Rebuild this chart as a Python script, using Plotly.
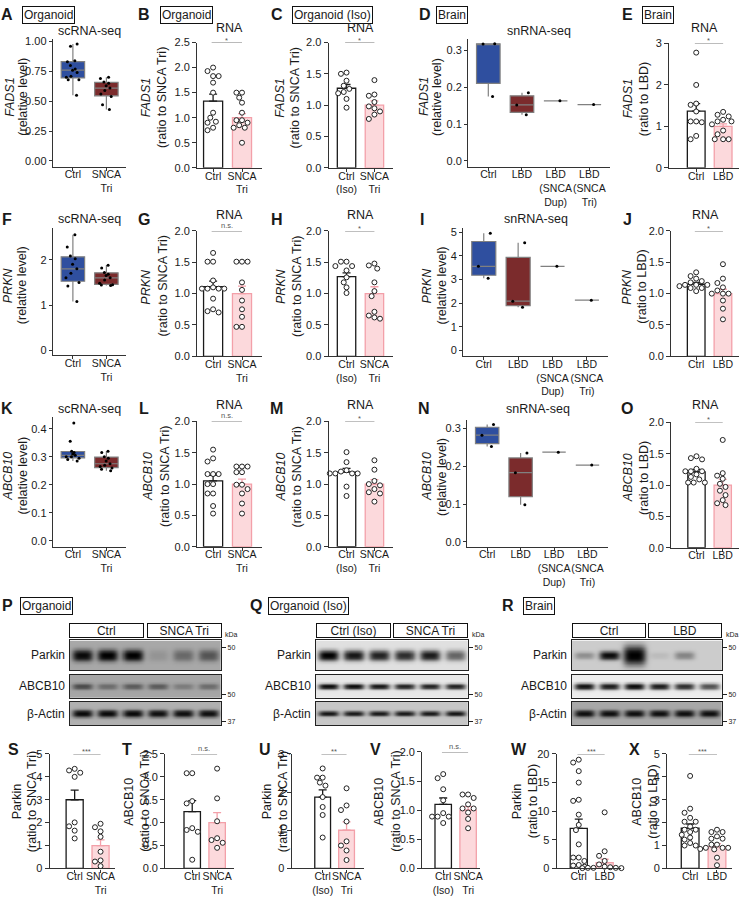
import numpy as np
import plotly.graph_objects as go

W, H = 744, 906
FONT = "Liberation Sans, Arial, Helvetica, sans-serif"
INK = "#1a1a1a"
AXC = "#333333"
BLUE = "#2f4f9f"
DRED = "#7b2b2c"
BOXLINE = "#808080"
PINK_FILL = "#fcd9dc"
PINK_LINE = "#f3a0a9"

# ---------------- data ----------------
# scRNA-seq organoid (box plots)
A_ctrl = [0.98, 0.96, 0.84, 0.83, 0.80, 0.77, 0.76, 0.74, 0.71, 0.70, 0.68, 0.68, 0.55]
A_tri = [0.70, 0.69, 0.66, 0.65, 0.63, 0.61, 0.59, 0.56, 0.54, 0.47, 0.43]
F_ctrl = [2.55, 2.28, 2.08, 2.02, 1.90, 1.80, 1.70, 1.60, 1.50, 1.42, 1.08]
F_tri = [1.88, 1.82, 1.72, 1.68, 1.65, 1.60, 1.55, 1.48, 1.45, 1.44, 1.43]
K_ctrl = [0.42, 0.355, 0.32, 0.315, 0.31, 0.305, 0.30, 0.30, 0.295, 0.29, 0.285]
K_tri = [0.32, 0.315, 0.30, 0.295, 0.285, 0.275, 0.27, 0.265, 0.26, 0.255, 0.25]

# snRNA-seq brain (box plots)
D_ctrl = [0.318, 0.3175, 0.175]
D_lbd = [0.185, 0.152, 0.125]
D_dup = [0.163]
D_tri = [0.153]
I_ctrl = [4.95, 3.55, 3.05]
I_lbd = [4.55, 2.08, 1.82]
I_dup = [3.55]
I_tri = [2.12]
N_ctrl = [0.31, 0.282, 0.252]
N_lbd = [0.235, 0.183, 0.098]
N_dup = [0.237]
N_tri = [0.203]

# RNA (qPCR) bar charts: points, means, SEMs
B_ctrl = [2.00, 1.93, 1.83, 1.83, 1.70, 1.50, 1.10, 1.00, 0.92, 0.90, 0.80, 0.75]
B_tri = [1.50, 1.50, 1.40, 1.30, 1.10, 0.95, 0.95, 0.90, 0.85, 0.80, 0.80, 0.50]
B_mean = [1.33, 1.00]
B_sem = [0.14, 0.08]
C_ctrl = [1.52, 1.50, 1.39, 1.31, 1.26, 1.21, 1.19, 1.10, 0.96]
C_tri = [1.40, 1.17, 1.15, 1.05, 0.98, 0.95, 0.90, 0.85, 0.78]
C_mean = [1.27, 1.00]
C_sem = [0.06, 0.07]
E_ctrl = [2.78, 2.00, 1.55, 1.52, 1.36, 1.12, 1.12, 1.10, 0.77, 0.69]
E_lbd = [1.35, 1.28, 1.24, 1.16, 1.12, 1.12, 1.05, 0.90, 0.81, 0.69, 0.69, 0.69]
E_mean = [1.37, 1.00]
E_sem = [0.18, 0.06]
G_ctrl = [1.65, 1.51, 1.51, 1.21, 1.10, 1.08, 1.08, 1.08, 1.08, 0.92, 0.75, 0.72, 0.70]
G_tri = [1.51, 1.51, 1.51, 1.18, 1.06, 0.89, 0.75, 0.63, 0.47, 0.47]
G_mean = [1.11, 1.00]
G_sem = [0.09, 0.12]
H_ctrl = [1.51, 1.51, 1.44, 1.44, 1.37, 1.26, 1.18, 1.10, 1.01]
H_tri = [1.48, 1.45, 1.40, 1.18, 1.04, 0.96, 0.71, 0.65, 0.62, 0.60]
H_mean = [1.27, 1.00]
H_sem = [0.06, 0.11]
J_ctrl = [1.34, 1.28, 1.24, 1.20, 1.18, 1.14, 1.14, 1.14, 1.12, 1.09, 1.09, 1.04]
J_lbd = [1.47, 1.24, 1.17, 1.10, 1.05, 1.00, 1.00, 1.00, 0.89, 0.76, 0.59]
J_mean = [1.15, 1.00]
J_sem = [0.03, 0.07]
L_ctrl = [1.55, 1.41, 1.36, 1.16, 1.16, 1.16, 1.00, 1.00, 0.85, 0.85, 0.65, 0.53]
L_tri = [1.28, 1.28, 1.28, 1.19, 1.19, 0.99, 0.99, 0.92, 0.85, 0.69, 0.53]
L_mean = [1.05, 1.00]
L_sem = [0.09, 0.08]
M_ctrl = [1.51, 1.35, 1.22, 1.20, 1.17, 1.17, 1.17, 1.17, 0.96, 0.81]
M_tri = [1.38, 1.23, 1.05, 1.00, 0.98, 0.92, 0.87, 0.85, 0.72]
M_mean = [1.19, 1.00]
M_sem = [0.06, 0.07]
O_ctrl = [1.46, 1.43, 1.41, 1.26, 1.22, 1.22, 1.22, 1.17, 1.13, 1.09, 1.04, 1.04, 1.04]
O_lbd = [1.72, 1.19, 1.15, 1.10, 1.02, 0.97, 0.91, 0.84, 0.76, 0.71, 0.68]
O_mean = [1.21, 1.00]
O_sem = [0.04, 0.09]

# Western blot quantification
S_ctrl = [4.35, 4.28, 4.18, 4.00, 2.01, 1.84, 1.65, 1.31]
S_tri = [1.95, 1.80, 1.62, 1.38, 0.73, 0.35, 0.30, 0.10]
S_mean = [3.00, 1.00]
S_sem = [0.42, 0.25]
T_ctrl = [2.08, 2.08, 1.47, 1.42, 0.88, 0.84, 0.80, 0.19]
T_tri = [2.18, 1.53, 1.03, 0.66, 0.62, 0.56, 0.45]
T_mean = [1.24, 1.00]
T_sem = [0.24, 0.22]
U_ctrl = [2.62, 2.38, 2.38, 2.25, 2.17, 1.87, 1.61, 1.40, 0.81]
U_tri = [2.10, 1.65, 1.53, 1.23, 0.71, 0.60, 0.47, 0.22]
U_mean = [1.87, 1.00]
U_sem = [0.19, 0.22]
V_ctrl = [1.62, 1.55, 1.36, 1.17, 0.95, 0.89, 0.89, 0.89, 0.78]
V_tri = [1.27, 1.27, 1.21, 1.10, 1.03, 1.03, 0.96, 0.85, 0.69]
V_mean = [1.10, 1.00]
V_sem = [0.11, 0.06]
W_ctrl = [19.0, 18.5, 17.0, 15.0, 12.0, 11.8, 9.4, 7.6, 6.7, 4.2, 1.9, 1.9, 1.3, 0.6, 0.5, 0.3]
W_lbd = [9.8, 3.0, 2.2, 1.3, 0.7, 0.3, 0.2, 0.1, 0.1, 0.1, 0.05, 0.05]
W_mean = [7.0, 1.0]
W_sem = [1.6, 0.6]
X_ctrl = [4.04, 2.61, 2.43, 2.21, 2.04, 2.04, 1.83, 1.69, 1.69, 1.59, 1.47, 1.35, 1.26, 1.11, 1.00, 1.00]
X_lbd = [1.69, 1.59, 1.59, 1.40, 1.30, 1.30, 1.04, 1.04, 0.90, 0.90, 0.90, 0.85, 0.83, 0.47, 0.14]
X_mean = [1.76, 0.95]
X_sem = [0.18, 0.13]

# Western blot band intensities (6 lanes each)
P_parkin = [0.95, 1.0, 1.0, 0.12, 0.38, 0.50]
P_abcb10 = [0.55, 0.35, 0.45, 0.45, 0.25, 0.35]
P_actin = [0.95, 0.95, 0.95, 0.92, 0.92, 0.92]
Q_parkin = [1.0, 0.90, 0.85, 0.80, 0.88, 0.55]
Q_abcb10 = [0.95, 0.95, 0.90, 0.85, 0.85, 0.85]
Q_actin = [0.90, 0.88, 0.88, 0.88, 0.88, 0.90]
R_parkin = [0.30, 0.95, 1.0, 0.08, 0.35, 0.0]
R_parkin_thick = [0.8, 1.0, 2.2, 0.8, 0.9, 1.0]
R_abcb10 = [0.92, 0.88, 0.95, 0.88, 0.80, 0.65]
R_actin = [0.92, 0.92, 0.92, 0.92, 0.92, 0.92]

lab2 = ["Ctrl", "SNCA<br>Tri"]
lab2iso = ["Ctrl<br>(Iso)", "SNCA<br>Tri"]
lab2lbd = ["Ctrl", "LBD"]
lab4 = ["Ctrl", "LBD", "LBD<br>(SNCA<br>Dup)", "LBD<br>(SNCA<br>Tri)"]

# ---------------- helpers ----------------
fig = go.Figure()
_n = [0]


def axes(x0, x1, yt, yb, xa, ya):
    _n[0] += 1
    s = "" if _n[0] == 1 else str(_n[0])
    xa = dict(xa, domain=[x0 / W, x1 / W], anchor="y" + s)
    ya = dict(ya, domain=[1 - yb / H, 1 - yt / H], anchor="x" + s)
    fig.update_layout(**{"xaxis" + s: xa, "yaxis" + s: ya})
    return "x" + s, "y" + s


def base_axis(**kw):
    d = dict(showline=True, linecolor=AXC, linewidth=1.3, ticks="outside", ticklen=4,
             tickwidth=1.2, tickcolor=AXC, showgrid=False, zeroline=False, tickangle=0,
             tickfont=dict(family=FONT, size=11, color=INK), fixedrange=True)
    d.update(kw)
    return d


XTF = dict(family=FONT, size=10.5, color=INK)


def text(xp, yp, s, size=12, bold=False, color=INK, **kw):
    kw.setdefault("xanchor", "center")
    kw.setdefault("yanchor", "middle")
    fig.add_annotation(x=xp / W, y=1 - yp / H, xref="paper", yref="paper",
                       text=("<b>%s</b>" % s) if bold else s, showarrow=False,
                       font=dict(family=FONT, size=size, color=color), **kw)


def letter(xp, yp, s):
    text(xp, yp, s, size=16, bold=True)


def boxed(xp, yp, s):
    text(xp, yp, s, size=12, bordercolor="#111111", borderwidth=1, borderpad=1)


def ytitle(x1, x2, yp, s1, s2):
    text(x1, yp, s1, size=12.5, textangle=-90)
    text(x2, yp, s2, size=12.5, textangle=-90)


def swarm(vals, ppu_y, ppu_x, d=5.6):
    order = sorted(range(len(vals)), key=lambda i: -vals[i])
    placed = []
    offs = [0.0] * len(vals)
    cands = sorted([j * d / 2 for j in range(-12, 13)], key=lambda c: (abs(c), c))
    for i in order:
        yp = vals[i] * ppu_y
        chosen = 0.0
        for c in cands:
            if all((c - px) ** 2 + (yp - py) ** 2 >= (d * 0.97) ** 2 for px, py in placed):
                chosen = c
                break
        placed.append((chosen, yp))
        offs[i] = chosen / ppu_x
    return offs


def bar_panel(box, xr, ymax, tickvals, fmt, labels, groups, means, sems, sig):
    x0, x1, yt, yb = box
    xa, ya = axes(x0, x1, yt, yb,
                  base_axis(range=xr, tickvals=[0, 1], ticktext=labels, ticklen=3,
                            ticklabelstandoff=-5, tickfont=XTF),
                  base_axis(range=[0, ymax], tickvals=tickvals, tickformat=fmt))
    ppu_x = (x1 - x0) / (xr[1] - xr[0])
    ppu_y = (yb - yt) / ymax
    styles = [("white", INK, INK), (PINK_FILL, PINK_LINE, PINK_LINE)]
    for k, (m, e) in enumerate(zip(means, sems)):
        fill, line, err = styles[k]
        fig.add_trace(go.Bar(x=[k], y=[m], width=0.66,
                             marker=dict(color=fill, line=dict(color=line, width=1.3)),
                             error_y=dict(type="data", array=[e], arrayminus=[0], symmetric=False,
                                          color=err, thickness=1.3, width=4),
                             xaxis=xa, yaxis=ya, showlegend=False, hoverinfo="skip"))
    for k, vals in enumerate(groups):
        offs = swarm(vals, ppu_y, ppu_x)
        fig.add_trace(go.Scatter(x=[k + o for o in offs], y=vals, mode="markers",
                                 marker=dict(symbol="circle", size=5, color="white",
                                             line=dict(color="#222222", width=1)),
                                 cliponaxis=False, xaxis=xa, yaxis=ya, showlegend=False,
                                 hoverinfo="skip"))
    fig.add_trace(go.Scatter(x=[-0.05, 1.0], y=[ymax, ymax], mode="lines",
                             line=dict(color="#777777", width=1), cliponaxis=False,
                             xaxis=xa, yaxis=ya, showlegend=False, hoverinfo="skip"))
    fig.add_annotation(x=0.475, y=ymax, xref=xa, yref=ya, text=sig, showarrow=False,
                       xanchor="center", yanchor="bottom", yshift=-4 if "*" in sig else -1,
                       font=dict(family=FONT, size=7.5, color="#555555"))
    return xa, ya


def box_panel(box, yr, tickvals, fmt, labels, groups, colors):
    x0, x1, yt, yb = box
    n = len(groups)
    xa, ya = axes(x0, x1, yt, yb,
                  base_axis(range=[-0.6, n - 0.4], tickvals=list(range(n)), ticktext=labels,
                            linewidth=1.1, ticklen=3, ticklabelstandoff=-5, tickfont=XTF),
                  base_axis(range=yr, tickvals=tickvals, tickformat=fmt, linewidth=1.1,
                            ticklen=3))
    for k, (vals, c) in enumerate(zip(groups, colors)):
        fig.add_trace(go.Box(x=[k] * len(vals), y=vals, boxpoints="all", jitter=0.7,
                             pointpos=0, width=0.7, whiskerwidth=0, fillcolor=c,
                             line=dict(color=BOXLINE, width=1.2),
                             marker=dict(color="black", size=3),
                             xaxis=xa, yaxis=ya, showlegend=False, hoverinfo="skip"))


def blot_strip(x0, x1, yt, yb, intens, bg, wy, kda, kda_pos, name, thick=None, yc=0.5):
    xa, ya = axes(x0, x1, yt, yb,
                  dict(range=[0, 6], showline=True, mirror=True, linecolor="#222222",
                       linewidth=1, showticklabels=False, ticks="", showgrid=False,
                       zeroline=False, fixedrange=True),
                  dict(range=[0, 1], showline=True, mirror=True, linecolor="#222222",
                       linewidth=1, side="right", ticks="outside", ticklen=4,
                       tickcolor="#222222", tickvals=[kda_pos], ticktext=[kda],
                       tickfont=dict(family=FONT, size=7, color=INK), showgrid=False,
                       zeroline=False, fixedrange=True))
    xs = np.linspace(0, 6, 301)
    ys = np.linspace(0, 1, 41)
    Xg, Yg = np.meshgrid(xs, ys)
    band = np.zeros_like(Xg)
    for k, a in enumerate(intens):
        t = thick[k] if thick else 1.0
        band += a * np.exp(-(np.abs(Xg - (k + 0.5)) / (0.41 + 0.04 * (t - 1))) ** 4) * \
            np.exp(-(np.abs(Yg - yc) / (wy * t)) ** 2.5)
    Z = bg + (1 - bg) * np.clip(band, 0, 1)
    fig.add_trace(go.Heatmap(x=xs, y=ys, z=Z, zmin=0, zmax=1,
                             colorscale=[[0, "#ffffff"], [1, "#000000"]], showscale=False,
                             zsmooth="best", hoverinfo="skip", xaxis=xa, yaxis=ya))
    text(x0 - 3, (yt + yb) / 2, name, size=12, xanchor="right")


def blot(x0, x1, headers, rows):
    mid = (x0 + x1) / 2
    for (a, b), h in zip([(x0, mid - 1.5), (mid + 1.5, x1)], headers):
        text((a + b) / 2, 632.5, h, size=12, width=b - a - 2, height=13,
             bordercolor="#111111", borderwidth=1, borderpad=0)
    text(x1 + 2, 637, "kDa", size=7, xanchor="left")
    strips = [(643, 673), (678, 701), (705, 729)]
    for (yt, yb), r in zip(strips, rows):
        blot_strip(x0, x1, yt, yb, **r)


# ---------------- row 1 ----------------
box_panel((53, 127, 33, 163), [-0.05, 1.025], [0, 0.25, 0.5, 0.75, 1.0], ".2f", lab2,
          [A_ctrl, A_tri], [BLUE, DRED])
bar_panel((198, 263, 37, 164), [-0.55, 1.69], 2.5, [0, 0.5, 1, 1.5, 2, 2.5], ".1f", lab2,
          [B_ctrl, B_tri], B_mean, B_sem, "*")
bar_panel((330, 395, 37, 164), [-0.64, 1.68], 2.0, [0, 0.5, 1, 1.5, 2], ".1f", lab2iso,
          [C_ctrl, C_tri], C_mean, C_sem, "*")
box_panel((470, 612, 33, 163), [-0.016, 0.332], [0, 0.1, 0.2, 0.3], ".1f", lab4,
          [D_ctrl, D_lbd, D_dup, D_tri], [BLUE, DRED, "#cccccc", "#cccccc"])
bar_panel((672, 742, 38, 164), [-1.0, 1.59], 3, [0, 1, 2, 3], "d", lab2lbd,
          [E_ctrl, E_lbd], E_mean, E_sem, "*")

# ---------------- row 2 ----------------
box_panel((53, 127, 225, 354), [-0.11, 2.7], [0, 1, 2], "d", lab2,
          [F_ctrl, F_tri], [BLUE, DRED])
bar_panel((198, 263, 228, 355), [-0.55, 1.69], 2.0, [0, 0.5, 1, 1.5, 2], ".1f", lab2,
          [G_ctrl, G_tri], G_mean, G_sem, "n.s.")
bar_panel((330, 395, 228, 355), [-0.64, 1.68], 2.0, [0, 0.5, 1, 1.5, 2], ".1f", lab2iso,
          [H_ctrl, H_tri], H_mean, H_sem, "*")
box_panel((465, 610, 225, 355), [-0.25, 5.17], [0, 1, 2, 3, 4, 5], "d", lab4,
          [I_ctrl, I_lbd, I_dup, I_tri], [BLUE, DRED, "#cccccc", "#cccccc"])
bar_panel((674, 742, 228, 355), [-0.93, 1.6], 2.0, [0, 0.5, 1, 1.5, 2], ".1f", lab2lbd,
          [J_ctrl, J_lbd], J_mean, J_sem, "*")

# ---------------- row 3 ----------------
box_panel((53, 127, 417, 548), [-0.021, 0.44], [0, 0.1, 0.2, 0.3, 0.4], ".1f", lab2,
          [K_ctrl, K_tri], [BLUE, DRED])
bar_panel((198, 263, 421, 548), [-0.55, 1.69], 2.0, [0, 0.5, 1, 1.5, 2], ".1f", lab2,
          [L_ctrl, L_tri], L_mean, L_sem, "n.s.")
bar_panel((330, 395, 421, 548), [-0.64, 1.68], 2.0, [0, 0.5, 1, 1.5, 2], ".1f", lab2iso,
          [M_ctrl, M_tri], M_mean, M_sem, "*")
box_panel((469, 610, 420, 548), [-0.013, 0.321], [0, 0.1, 0.2, 0.3], ".1f", lab4,
          [N_ctrl, N_lbd, N_dup, N_tri], [BLUE, DRED, "#cccccc", "#cccccc"])
bar_panel((674, 742, 422, 549), [-0.96, 1.62], 2.0, [0, 0.5, 1, 1.5, 2], ".1f", lab2lbd,
          [O_ctrl, O_lbd], O_mean, O_sem, "*")

# ---------------- row 5 ----------------
bar_panel((50, 115, 758, 874), [-0.96, 1.54], 5, [0, 1, 2, 3, 4, 5], "d", lab2,
          [S_ctrl, S_tri], S_mean, S_sem, "***")
bar_panel((166, 235, 758, 874), [-1.08, 1.68], 2.5, [0, 0.5, 1, 1.5, 2, 2.5], ".1f", lab2,
          [T_ctrl, T_tri], T_mean, T_sem, "n.s.")
bar_panel((293, 365, 758, 874), [-1.29, 1.71], 3, [0, 1, 2, 3], "d", lab2iso,
          [U_ctrl, U_tri], U_mean, U_sem, "**")
bar_panel((424, 482, 756, 874), [-0.84, 1.48], 2.0, [0, 0.5, 1, 1.5, 2], ".1f", lab2iso,
          [V_ctrl, V_tri], V_mean, V_sem, "n.s.")
bar_panel((559, 624, 758, 874), [-0.85, 1.65], 20, [0, 5, 10, 15, 20], "d", lab2lbd,
          [W_ctrl, W_lbd], W_mean, W_sem, "***")
bar_panel((670, 735, 758, 874), [-0.85, 1.56], 5, [0, 1, 2, 3, 4, 5], "d", lab2lbd,
          [X_ctrl, X_lbd], X_mean, X_sem, "***")

# ---------------- blots ----------------
blot(70, 222, ["Ctrl", "SNCA Tri"], [
    dict(intens=P_parkin, bg=0.34, wy=0.2, kda="50", kda_pos=0.77, name="Parkin"),
    dict(intens=P_abcb10, bg=0.35, wy=0.14, kda="50", kda_pos=0.13, name="ABCB10"),
    dict(intens=P_actin, bg=0.31, wy=0.16, kda="37", kda_pos=0.17, name="β-Actin"),
])
blot(317, 470, ["Ctrl (Iso)", "SNCA Tri"], [
    dict(intens=Q_parkin, bg=0.12, wy=0.18, kda="50", kda_pos=0.77, name="Parkin"),
    dict(intens=Q_abcb10, bg=0.09, wy=0.13, kda="50", kda_pos=0.13, name="ABCB10"),
    dict(intens=Q_actin, bg=0.22, wy=0.11, kda="37", kda_pos=0.17, name="β-Actin"),
])
blot(574, 725, ["Ctrl", "LBD"], [
    dict(intens=R_parkin, bg=0.20, wy=0.15, kda="50", kda_pos=0.77, name="Parkin",
         thick=R_parkin_thick),
    dict(intens=R_abcb10, bg=0.07, wy=0.15, kda="50", kda_pos=0.13, name="ABCB10"),
    dict(intens=R_actin, bg=0.34, wy=0.15, kda="37", kda_pos=0.17, name="β-Actin"),
])

# ---------------- text: letters, boxed labels, titles ----------------
for L, x, y in [("A", 7, 9), ("B", 145, 9), ("C", 278, 9), ("D", 427, 9), ("E", 630, 9),
                ("F", 7, 216), ("G", 145, 216), ("H", 278, 216), ("I", 424, 216), ("J", 630, 216),
                ("K", 7, 408), ("L", 145, 408), ("M", 278, 408), ("N", 426, 408), ("O", 630, 408),
                ("P", 8, 608), ("Q", 257, 608), ("R", 510, 608),
                ("S", 14, 753), ("T", 128, 753), ("U", 266, 753), ("V", 377, 753),
                ("W", 521, 753), ("X", 637, 753)]:
    letter(x, y, L)

for s, x, y in [("Organoid", 49, 9), ("Organoid", 187, 9), ("Organoid (Iso)", 334, 9),
                ("Brain", 454, 9), ("Brain", 661, 9),
                ("Organoid", 47, 608), ("Organoid (Iso)", 310, 608), ("Brain", 541, 608)]:
    boxed(x, y, s)

for s, x, y in [("scRNA-seq", 90, 25), ("RNA", 230, 22), ("RNA", 362, 22),
                ("snRNA-seq", 541, 25), ("RNA", 707, 22),
                ("scRNA-seq", 90, 216), ("RNA", 230, 212), ("RNA", 362, 212),
                ("snRNA-seq", 538, 216), ("RNA", 708, 212),
                ("scRNA-seq", 90, 408), ("RNA", 230, 404), ("RNA", 362, 404),
                ("snRNA-seq", 540, 408), ("RNA", 708, 404)]:
    text(x, y, s, size=12.5)

REL = "(relative level)"
TRI = "(ratio to SNCA Tri)"
LBD = "(ratio to LBD)"
for x1, x2, y, s1, s2 in [
        (10, 23, 92, "<i>FADS1</i>", REL), (146, 162, 93, "<i>FADS1</i>", TRI),
        (281, 296, 93, "<i>FADS1</i>", TRI), (425, 439, 92, "<i>FADS1</i>", REL),
        (630, 646, 94, "<i>FADS1</i>", LBD),
        (8, 22, 283, "<i>PRKN</i>", REL), (147, 164, 284, "<i>PRKN</i>", TRI),
        (282, 298, 284, "<i>PRKN</i>", TRI), (429, 444, 283, "<i>PRKN</i>", REL),
        (630, 645, 284, "<i>PRKN</i>", LBD),
        (8, 23, 476, "<i>ABCB10</i>", REL), (148, 165, 477, "<i>ABCB10</i>", TRI),
        (282, 298, 477, "<i>ABCB10</i>", TRI), (428, 443, 477, "<i>ABCB10</i>", REL),
        (630, 646, 478, "<i>ABCB10</i>", LBD),
        (17, 32, 806, "Parkin", TRI), (130, 146, 806, "ABCB10", TRI),
        (268, 284, 806, "Parkin", TRI), (381, 398, 806, "ABCB10", TRI),
        (519, 535, 806, "Parkin", LBD), (640, 656, 806, "ABCB10", LBD)]:
    ytitle(x1, x2, y, s1, s2)

fig.update_layout(width=W, height=H, margin=dict(l=0, r=0, t=0, b=0),
                  paper_bgcolor="white", plot_bgcolor="white", barmode="overlay",
                  boxmode="overlay", showlegend=False,
                  font=dict(family=FONT, size=11, color=INK))

fig.write_html("out.html", config={"displayModeBar": False},
               post_script="document.body.style.margin='0px';"
                           "document.body.style.overflow='hidden';")
